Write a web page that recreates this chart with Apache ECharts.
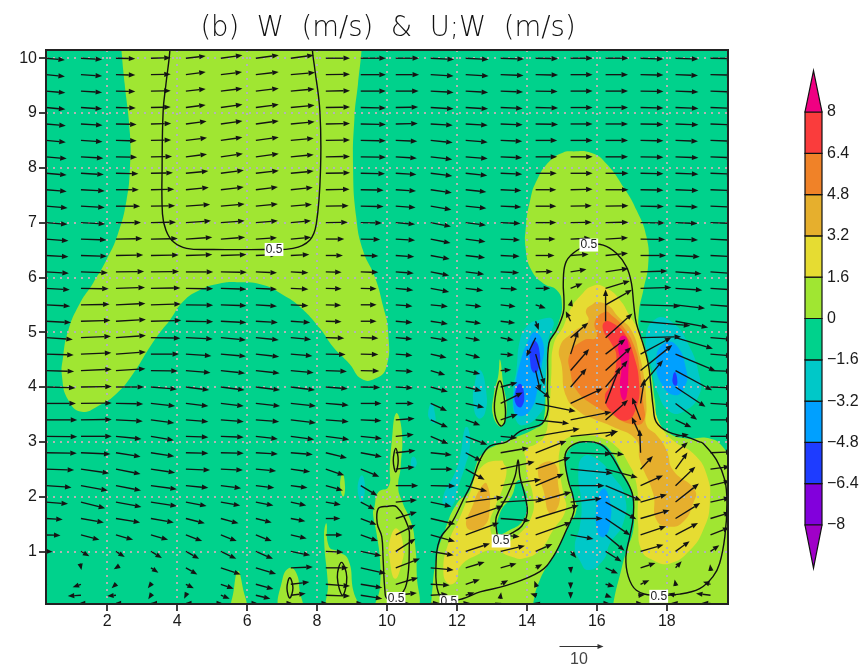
<!DOCTYPE html>
<html>
<head>
<meta charset="utf-8">
<style>html,body{margin:0;padding:0;background:#fff}#c{width:867px;height:666px}</style>
<script src="https://cdn.jsdelivr.net/npm/echarts@6/dist/echarts.min.js"></script>
</head>
<body>
<div id="c"></div>
<script>
const titleText = '(b)  W  (m/s)  &  U;W  (m/s)';
const xTicks = [2,4,6,8,10,12,14,16,18];
const yTicks = [1,2,3,4,5,6,7,8,9,10];
const xColumns = [0.25,1.25,2.25,3.25,4.25,5.25,6.25,7.25,8.25,9.25,10.25,11.25,12.25,13.25,14.25,15.25,16.25,17.25,18.25,19.25];
const yRows = [10,9.7,9.4,9.1,8.8,8.5,8.2,7.9,7.6,7.3,7,6.7,6.4,6.1,5.8,5.5,5.2,4.9,4.6,4.3,4,3.7,3.4,3.1,2.8,2.5,2.2,1.9,1.6,1.3,1,0.7,0.4,0.2,0.05];
const uRows = [
[4.3,4.8,4.4,4.5,4.5,4.9,5.2,5.2,5.5,5.7,5.3,5.3,5.2,5.3,5.1,5,5.2,5.2,5.2,5.2],
[4.3,4.8,4.4,4.5,4.5,4.8,5.2,5.5,5.5,5.7,5.3,5.2,5.2,5.2,5.1,5,5.1,5.2,5.1,5.2],
[4.4,4.8,4.4,4.5,4.5,4.9,5.2,5.4,5.5,5.7,5.2,5.2,5.1,5.1,5,5,5.1,5.2,5.2,5.2],
[4.4,4.8,4.5,4.5,4.5,4.9,5.2,5.4,5.5,5.7,5.1,5.2,5.1,5,5.1,5,5.1,5.2,5.2,5.2],
[4.5,4.9,4.7,4.6,4.7,4.9,5.2,5.4,5.5,5.7,5,5,5,5,5.1,5,5.1,5.2,5.2,5.2],
[4.5,4.9,4.7,4.6,4.8,4.9,5.2,5.2,5.5,5.7,4.9,5,5,4.9,4.9,5,5.1,5.2,5.1,5.2],
[4.7,5.1,4.8,4.8,4.8,5,5.2,5.2,5.5,5.7,4.8,4.9,5,4.9,4.9,5,5.1,5.2,5.2,5.2],
[4.7,5.2,5.1,5,5.1,5.2,5.2,5.2,5.5,5.5,4.7,4.9,4.9,4.9,4.8,5,5.2,5.2,5.2,5.2],
[4.7,5.4,5.2,5.3,5.2,5.2,5,5,5.4,5.2,4.6,4.8,4.7,4.7,4.7,5,5.2,5.2,5.2,5.2],
[4.9,5.4,5.5,5.5,5.5,5.4,5,4.8,5.2,5.2,4.5,4.7,4.7,4.7,4.7,4.8,5.2,5.3,5.1,5.3],
[4.9,5.5,5.7,5.7,5.7,5.4,5,4.6,5,4.8,4.4,4.6,4.6,4.5,4.7,4.8,5.2,5.5,5,5.5],
[5.1,5.8,6,6.1,6,5.5,4.8,4.6,4.2,4.4,4.4,4.5,4.5,4.4,4.5,4.6,5.1,5.6,5.1,5.6],
[5.1,5.9,6.2,6.3,6,5.8,4.8,4.2,3.9,4,4.2,4.3,4.4,4.3,4.3,4.1,5.1,5.8,5.5,5.7],
[5.2,6.1,6.4,6.4,6.2,5.9,4.8,4,3.6,4,4.1,4.2,4.2,4.2,3.9,3.6,5.2,6.1,5.9,5.8],
[5.4,6.3,6.6,6.7,6.2,5.8,4.8,4,3.6,3.6,4,4.2,4,3.8,3.3,2.7,5.5,7,6.1,6],
[5.5,6.5,6.7,6.8,6.2,5.8,4.8,4,3.5,3.6,3.8,3.9,3.6,3.4,2.3,0.3,6,9,6.7,6],
[5.7,6.7,6.8,6.9,6.2,5.8,5,4.4,3.6,3.6,3.8,3.9,3.5,3.3,0.7,-1.1,0,11.3,7.4,5.5],
[6.1,6.8,6.8,6.7,6.1,5.7,5.2,4.6,4.2,4,3.8,3.9,3.3,3,-2.1,4,6.1,9.2,8.5,5],
[6.3,6.9,6.8,6.4,5.8,5.7,5.3,4.9,4.5,4,3.8,3.6,3.3,3,2,1.7,4.5,7,9.1,5],
[6.4,7,6.7,6.1,5.6,5.5,5.4,5.2,4.8,4.2,3.9,3.3,3.3,2.4,1.1,4.2,5.8,7.2,8.3,5],
[6.7,7,6.4,5.9,5.3,5.4,5.5,5.5,5,4.4,3.9,3.9,3.6,3.8,3.3,3.6,5,5.1,6.8,5],
[6.8,7,6.2,5.5,5.1,5.2,5.5,5.7,5.2,4.7,4.1,3.7,4.2,5,9.1,7.3,3.2,0.9,4.9,5],
[7.1,7,6.1,5.3,5.1,5.2,5.3,5.7,5.2,4.7,4.3,3.9,3.3,3.9,7.6,9.3,5.1,-1.9,3.6,5],
[7.1,7,5.8,5.2,5.1,5.2,5,5.3,5.3,4.8,4.1,4,4.9,3.8,10,10.8,2.5,-2,3,5],
[7,6.7,5.6,5.3,5.1,5.2,5,5,4.8,4.8,4.5,4.8,3.6,6.4,7,9.3,4.2,-0.2,2.8,5],
[6.4,6.4,5.6,5.5,5.5,5,4.6,4.4,4.2,4.2,4.3,5,4.3,7.7,7.9,9.6,7.3,2.8,2.7,4.5],
[5.8,6.1,5.7,5.9,5.1,4.6,4.2,3.8,3.9,3.8,5.1,5.6,4.9,9.2,6.4,7.7,8.1,5.1,4.5,4.5],
[5,5.5,5.8,5.9,4.7,4.4,4,3.5,3.4,3.2,4.8,4.7,8.5,10,8.1,7.1,7,6,5.3,4.5],
[3.8,5.2,5.5,5.2,4.3,4,3.6,3.3,3.3,3.6,4.8,5.6,8.5,6.7,9.8,7.3,5.6,6.6,5.6,4.5],
[3.3,4.2,3.9,3.9,3.7,3.6,3.6,3.6,3.8,3.9,4.5,5.5,7.6,4.3,8.1,5.2,4.3,5.8,5.1,4.3],
[1.5,1.9,2,2.5,3,3.5,3.9,4.4,4,4.7,4.5,5.2,5.5,5.5,3.8,1.3,3.6,5.2,3.2,2],
[0.1,0.1,-0.5,1.7,2.6,4.5,4.6,5,5.1,5.7,5.5,5.2,4.3,3.6,1.5,0.1,2.8,3.4,1.4,-0.1],
[0.3,-1.9,-1,-0.7,1.8,2.9,4,4.2,5.5,4.9,5.1,4.3,3.2,1.7,-0.3,0,2,2,-0.2,-1.7],
[0.1,-3,-2,-0.6,-0.4,2,3.3,3.4,5.5,4.9,4.8,3.9,2,0.1,-1.2,0,1.4,1,-1.7,-3.3],
[0.1,-0.5,-0.3,-0.1,-0.2,0.5,0.5,0.5,0.5,0.5,3,2,1,0.3,-0.5,0,1,0.5,-1,-2]
];
const wRows = [
[-.4,-.3,-.1,.1,.5,.7,.7,.7,0,0,0,-.3,-.3,-.2,-.1,0,0,-.2,-.2,-.1],
[-.4,-.3,-.1,.1,.6,.6,.6,.5,.1,0,0,-.3,-.3,-.2,-.1,0,0,-.1,-.2,-.1],
[-.4,-.3,-.1,.1,.5,.6,.6,.5,.1,0,0,-.3,-.3,-.2,-.1,0,0,-.1,-.2,-.2],
[-.4,-.3,-.1,.1,.6,.7,.7,.5,.1,-.1,.1,-.3,-.3,-.2,-.1,0,0,-.1,-.2,-.2],
[-.4,-.3,-.1,.1,.6,.7,.7,.5,.1,-.1,.1,-.3,-.3,-.2,-.1,0,0,-.1,-.2,-.2],
[-.4,-.3,-.1,.1,.6,.7,.7,.5,.1,-.1,-.2,-.5,-.4,-.2,0,0,0,-.1,-.2,-.2],
[-.4,-.3,-.1,.1,.6,.7,.7,.5,.1,-.1,-.3,-.6,-.4,-.2,0,0,0,-.1,-.2,-.2],
[-.4,-.3,-.1,.1,.5,.7,.6,.5,.1,-.1,-.3,-.6,-.5,-.2,0,0,0,-.1,-.2,-.2],
[-.4,-.3,0,.1,.5,.6,.6,.5,.1,-.1,-.3,-.7,-.5,-.2,0,.1,0,-.1,-.2,-.2],
[-.4,-.3,0,.1,.4,.5,.5,.4,.1,-.1,-.3,-.8,-.5,-.2,0,.1,.1,-.1,-.2,-.2],
[-.4,-.3,0,.1,.4,.4,.4,.4,.1,-.1,-.4,-.9,-.6,-.2,0,.1,.1,-.1,-.2,-.2],
[-.4,-.2,.1,.1,.4,.4,.3,.4,0,-.1,-.3,-.9,-.6,-.2,0,.2,.3,-.1,-.2,-.3],
[-.3,-.2,.1,.1,.2,.2,.2,.2,0,-.1,-.3,-.8,-.5,-.2,0,.3,.5,0,-.3,-.3],
[-.3,-.2,.1,.1,0,-.1,-.2,-.2,-.1,-.1,-.3,-.8,-.5,-.2,.1,.6,.8,.2,-.4,-.4],
[-.3,-.1,.2,.1,-.1,-.2,-.2,-.2,-.1,-.1,-.4,-.8,-.5,-.2,0,1.1,1.7,.2,-.4,-.4],
[-.3,.1,.3,.2,-.1,-.2,-.3,-.2,-.1,0,-.3,-.4,-.4,-.4,-.8,1.2,3.4,-.3,-.8,-.5],
[-.3,.2,.4,.2,-.1,-.3,-.3,-.3,-.1,0,-.3,-.6,-.5,-.4,-2,2.3,7.2,-1,-1.4,-.4],
[-.4,.3,.5,-.1,-.3,-.5,-.5,-.4,-.1,-.1,-.3,-.6,-.6,-.6,-4.3,3.4,5.5,.2,-2.5,-.4],
[-.2,.3,.5,0,-.4,-.5,-.6,-.4,-.1,-.1,-.3,-.8,-.8,-.2,-7,5.3,3.4,3.8,-3.8,-.4],
[-.2,.3,.4,-.1,-.5,-.6,-.6,-.5,-.2,-.1,-.2,-1,-.8,.2,-4.7,4.9,5.3,5.8,-4.5,-.2],
[-.2,.1,0,-.5,-.7,-.7,-.7,-.7,-.4,-.1,-.2,-1.1,-.9,1,-2.5,4.2,6,6.1,-4.5,-.2],
[0,.1,-.1,-.6,-.6,-.6,-.6,-.6,-.4,0,0,-1.7,-.9,2.5,-1.8,3.4,8.3,5.6,-3.7,-.3],
[0,.1,-.3,-.7,-.4,-.4,-.4,-.7,-.4,-.2,.3,-1.7,-1.2,1.3,-.8,1.8,4.5,5.1,-1.7,0],
[-.1,0,-.6,-.9,-.2,-.2,-.6,-.7,-.7,-.5,.4,-1.7,-1.9,-.4,1.7,1.1,1,4.4,.4,0],
[-.1,-.3,-.9,-.8,-.1,-.1,-.3,-.4,-1.2,-.9,.5,-.5,-1.9,1.1,2.7,-.3,-.4,5.3,2.4,.2],
[-.2,-.9,-1.1,-.8,-.2,-.2,-.4,-.6,-1.4,-1.7,.5,0,-2.4,1.7,2.7,-.9,-1.9,3,3.8,.6],
[-.4,-1.1,-1.1,-.8,-.5,-.6,-.5,-.5,-1.1,-2.3,0,-.1,-1.3,1.4,2.7,0,-3.4,2.3,4.3,1.1],
[-.4,-1.4,-1.1,-.9,-.9,-.8,-.8,-.8,-.6,-1.7,.5,-1,1.1,.6,2.3,.8,-3.9,1.7,4.2,1],
[-.2,-.9,-.9,-.9,-1.1,-1.1,-.9,-.6,0,-1.4,1.5,-1.3,2.9,-.5,3,0,-3.8,1.9,3.5,1.4],
[-.1,-1.1,-1.1,-1.1,-1.4,-1.4,-1.4,-.8,0,-1.4,2.3,-1.5,2.8,-.4,2.9,-.9,-3.6,2,2.7,1.7],
[-.1,-1.1,-1.3,-1.5,-1.7,-1.7,-1.7,-.9,-.2,-1,2.9,-.9,1.8,1.3,1.7,-1.5,-2.3,1.5,2.3,1.4],
[0,-.5,-.3,-1.1,-1.5,-1.5,-1.4,.2,0,-1.3,2.1,-.5,1.3,1,.8,-1.3,-1.3,1.1,1.5,.8],
[0,-.7,-.9,-.9,-.9,-1,-1.1,.5,-.4,-.8,1.5,-.2,1.1,.9,.8,-1.1,-.5,.9,1.1,.6],
[0,-.2,-.2,-.9,-.8,-.8,-.8,.4,-.2,-.8,.5,.2,.6,.7,.4,-.8,-.5,.1,.4,.4],
[0,0,0,0,0,0,0,0,0,0,.1,.1,.1,.1,.1,0,0,0,.1,.1]
];

// Filled bands, outlines read in data coordinates (x, height)
const bandMinus16to0 = [[[-1,-1],[21,-1],[21,11],[-1,11]]];
const band0to16 = [
[[2.38,10.5],[2.41,10.13],[2.5,9.53],[2.65,8.62],[2.65,8],[2.55,7.4],[2.31,6.8],[1.98,6.32],[1.6,5.9],[1.22,5.53],[.89,5.04],[.74,4.55],[.71,4.18],[.89,3.76],[1.27,3.55],[1.79,3.67],[2.27,3.88],[2.74,4.24],[3.22,4.73],[3.55,5.03],[3.79,5.22],[4.17,5.56],[4.65,5.77],[5.22,5.89],[5.79,5.91],[6.46,5.86],[7.03,5.68],[7.5,5.47],[8.08,5.07],[8.46,4.73],[8.93,4.42],[9.27,4.15],[9.65,4.15],[9.98,4.36],[10.03,5.03],[9.89,5.47],[9.65,6.01],[9.31,6.5],[9.12,7.1],[9.03,8],[9.07,8.92],[9.17,9.53],[9.27,10.13],[9.3,10.5]],
[[15.28,8.3],[15.85,8.27],[16.28,8.07],[16.76,7.65],[17.14,7.22],[17.42,6.74],[17.47,6.25],[17.33,5.77],[17.2,5.35],[17.23,4.97],[17.51,4.37],[17.66,3.76],[17.75,3.39],[18.08,3.15],[18.56,3.06],[19.23,3.06],[19.61,2.9],[19.85,2.6],[20.3,2.4],[20.3,-.4],[16.4,-.4],[16.47,.04],[16.7,.67],[16.85,1.02],[17.04,1.39],[17.04,1.81],[16.99,2.12],[16.7,2.48],[16.37,2.85],[16.09,2.97],[15.61,3],[15.23,2.88],[15.11,2.67],[15.18,2.3],[15.32,2],[15.42,1.78],[15.18,1.45],[14.8,.96],[14.37,.48],[14.18,.05],[14.1,-.4],[11.2,-.4],[11.27,.11],[11.42,.9],[11.66,1.39],[11.99,1.87],[12.37,2.12],[12.56,2.6],[12.75,2.79],[13.13,2.94],[13.7,3.09],[14.23,3.24],[14.47,3.36],[14.53,4.25],[14.61,4.73],[14.9,5.16],[15,5.52],[14.85,5.77],[14.47,5.89],[14.13,6.13],[13.97,6.5],[13.97,6.92],[14.09,7.4],[14.28,7.77],[14.66,8.13],[15.04,8.28]],
[[5.74,.64],[5.87,.36],[5.96,-.1],[5.58,-.1],[5.62,.3]],
[[7.22,.7],[7.41,.6],[7.5,.3],[7.55,-.1],[6.95,-.1],[7.01,.49]],
[[8.27,1.51],[8.34,1.09],[8.6,1],[8.89,.85],[9.03,.3],[9.17,-.1],[8.34,-.1],[8.31,.42],[8.2,1.27]],
[[8.73,2.42],[8.8,2.18],[8.75,2],[8.66,2.2]],
[[10.26,3.52],[10.42,3.21],[10.39,2.54],[10.32,2.18],[10.42,1.93],[10.7,1.51],[10.8,1.14],[10.85,.6],[10.8,-.1],[9.72,-.1],[9.8,.35],[9.8,.84],[9.7,1.33],[9.6,1.69],[9.64,1.81],[9.75,2.08],[10.04,2.18],[10.08,2.54],[10.13,2.97]],
[[13.23,4.5],[13.32,4.07],[13.42,3.58],[13.28,3.28],[13.04,3.46],[13.06,3.89],[13.18,4.2]]
];
const band16to32 = [
[[15.9,5.85],[16.28,5.8],[16.66,5.59],[16.94,5.3],[17.13,5.1],[17.37,4.73],[17.51,4.25],[17.61,3.76],[17.85,3.27],[18.23,3],[18.75,2.79],[19.13,2.42],[19.23,1.87],[19.04,1.39],[18.66,1.02],[18.09,.78],[17.61,.84],[17.28,1.02],[17.18,1.51],[17.13,2.24],[16.85,2.67],[16.56,2.91],[16.18,3.06],[15.61,3.12],[15.13,3.06],[14.94,2.85],[14.94,2.48],[15.04,2.06],[15.11,1.76],[14.75,1.39],[14.37,1.02],[13.89,.87],[13.56,.9],[13.04,1.02],[12.56,.93],[12.09,.72],[11.99,.47],[11.75,.41],[11.61,.66],[11.75,1.14],[12.09,1.63],[12.37,2.06],[12.7,2.54],[13.28,2.66],[13.37,2.57],[13.7,2.4],[13.97,2.85],[14.28,2.97],[14.5,3.1],[14.61,3.39],[14.66,3.7],[14.7,4.25],[14.77,4.79],[15.04,5.1],[15.23,5.4],[15.51,5.65]],
[[10.28,1.42],[10.47,1.08],[10.42,.78],[10.23,.5],[10.08,.84],[10.08,1.2]]
];
const holeBand0to16 = [[[13.66,2.78],[13.9,2.82],[14.01,2.4],[14.18,1.99],[14.13,1.63],[13.8,1.33],[13.32,1.15],[13.09,1.21],[12.95,1.51],[13.09,1.81],[13.32,2.18],[13.42,2.55],[13.32,2.66]]];
const holeBandMinus16to0 = [[[13.75,2.3],[13.56,2],[13.23,1.7],[13.18,1.33],[13.51,1.39],[13.89,1.57],[14.01,1.87],[13.94,2.12]]];
const band32to48 = [
[[15.9,5.52],[15.69,5.4],[15.75,5.2],[15.32,5],[14.94,4.73],[15,4.37],[15.13,3.82],[15.5,3.55],[15.9,3.42],[16.47,3.27],[17.13,3.03],[17.23,2.67],[17.61,2.06],[17.71,1.57],[18.09,1.45],[18.47,1.54],[18.75,1.87],[18.8,2.12],[18.18,2.48],[17.99,2.85],[17.71,3.12],[17.42,3.3],[17.42,3.63],[17.36,4.12],[17.23,4.55],[16.99,5.03],[16.61,5.28],[16.32,5.49],[15.99,5.55]],
[[12.85,2.24],[12.94,1.81],[12.75,1.45],[12.28,1.44],[12.47,1.87],[12.7,2.18]],
[[14.42,2.6],[14.8,2.6],[14.89,2.24],[14.92,1.87],[14.66,1.69],[14.47,2.12],[14.32,2.42]]
];
const band48to64 = [[[16.23,5.37],[15.94,5.19],[15.99,4.91],[15.61,4.85],[15.23,4.61],[15.25,4.25],[15.42,3.94],[15.9,3.67],[16.47,3.48],[16.94,3.33],[17.32,3.36],[17.32,3.76],[17.23,4.3],[17.08,4.73],[16.75,5.1],[16.42,5.31]]];
const band64to80 = [[[16.23,5.19],[16.18,5.04],[16.42,4.79],[16.56,4.55],[16.42,4.06],[16.23,3.82],[16.42,3.54],[16.85,3.39],[17.13,3.63],[17.21,4.06],[17.04,4.61],[16.8,4.97],[16.47,5.16]]];
const bandAbove80 = [[[16.75,4.94],[16.61,4.79],[16.7,4.37],[16.66,4],[16.75,3.76],[16.85,3.82],[16.9,4.3],[16.9,4.79]]];
const bandMinus32toMinus16 = [
[[17.7,5.25],[18.13,5.19],[18.56,4.85],[18.94,4.18],[18.9,3.82],[18.47,3.55],[18.09,3.55],[17.75,3.88],[17.56,4.37],[17.4,4.91]],
[[14.32,5.22],[14.75,5.22],[14.61,4.85],[14.56,4.25],[14.51,3.76],[14.37,3.51],[13.9,3.3],[13.66,3.45],[13.61,3.94],[13.7,4.3],[13.8,4.85],[13.99,5.1]],
[[12.66,4.31],[12.83,3.95],[12.8,3.52],[12.61,3.43],[12.47,3.7],[12.51,4.07]],
[[11.28,3.7],[11.37,3.52],[11.37,3.34],[11.23,3.4],[11.18,3.55]],
[[12.32,3.25],[12.37,2.92],[12.23,2.55],[12.04,2.19],[11.85,1.82],[11.61,1.88],[11.61,2],[11.68,2.13],[11.94,2.43],[12.09,2.73],[12.23,3.25]],
[[10.75,2.73],[10.85,2.61],[10.75,2.52],[10.68,2.61]],
[[9.28,2.39],[9.37,2.18],[9.28,1.9],[9.16,2.15]],
[[15.61,2.73],[15.99,2.69],[16.47,2.36],[16.8,2],[16.75,1.51],[16.37,1.14],[16.18,.84],[15.75,.66],[15.51,.84],[15.37,1.08],[15.51,1.45],[15.56,1.87],[15.47,2.42]]
];
const bandMinus48toMinus32 = [
[[18.23,4.79],[18.56,4.3],[18.51,4],[18.23,3.85],[17.85,4.06],[17.7,4.43],[17.85,4.76]],
[[14.23,5],[14.47,4.79],[14.42,4.37],[14.32,4],[14.09,3.57],[13.75,3.48],[13.61,3.7],[13.66,4],[13.8,4.43],[14.04,4.85]],
[[16.18,2.15],[16.37,1.93],[16.39,1.57],[16.23,1.27],[16.04,1.33],[15.99,1.81]]
];
const bandMinus64toMinus48 = [
[[18.23,4.27],[18.29,4.18],[18.28,4.03],[18.18,4.06],[18.18,4.21]],
[[14.23,4.85],[14.37,4.61],[14.32,4.31],[14.18,4.27],[14.09,4.49],[14.1,4.73]],
[[13.8,4.06],[13.92,3.88],[13.85,3.64],[13.7,3.67],[13.66,3.88]]
];
const bandColors = ['#00d28c','#a0e632','#e6dc32','#e6af2d','#f08228','#fa3c3c','#f00082','#00c8c8','#00a0ff','#1e3cff','#8200dc','#a000c8'];
const fillLayers = [
 [bandMinus16to0,bandColors[0]],[band0to16,bandColors[1]],[band16to32,bandColors[2]],
 [holeBand0to16,bandColors[1]],[holeBandMinus16to0,bandColors[0]],
 [band32to48,bandColors[3]],[band48to64,bandColors[4]],[band64to80,bandColors[5]],[bandAbove80,bandColors[6]],
 [bandMinus32toMinus16,bandColors[7]],[bandMinus48toMinus32,bandColors[8]],[bandMinus64toMinus48,bandColors[9]]
];

// 0.5 m/s contour of W
const contourOpen = [
[[3.8,10.5],[3.79,10.13],[3.68,9.53],[3.6,9.04],[3.57,8.01],[3.58,7.16],[3.68,6.86],[3.89,6.65],[4.27,6.53],[5.03,6.51],[6.46,6.51],[7.31,6.53],[7.79,6.68],[7.98,6.98],[8.1,7.99],[8.08,9.04],[7.93,9.83],[7.87,10.13],[7.86,10.5]]
];
const contourClosed = [
[[15.75,6.59],[16.18,6.59],[16.56,6.44],[16.85,6.19],[16.99,5.89],[17.06,5.47],[17.13,5.16],[17.32,4.79],[17.47,4.42],[17.54,4.06],[17.61,3.64],[17.7,3.36],[18.04,3.18],[18.56,3.09],[18.94,3],[19.04,2.97],[19.42,2.67],[19.66,2.3],[19.72,1.87],[19.66,1.27],[19.51,.78],[19.32,.54],[18.94,.32],[18.37,.22],[17.61,.2],[17.13,.29],[16.9,.54],[16.83,.9],[16.94,1.27],[17.04,1.63],[17.01,2.06],[16.66,2.48],[16.37,2.79],[16.09,2.96],[15.61,3],[15.23,2.91],[15.09,2.73],[15.18,2.3],[15.32,2],[15.35,1.75],[15.13,1.39],[14.75,.9],[14.37,.63],[13.42,.38],[12.66,.26],[12.18,.14],[11.75,.1],[11.47,.24],[11.4,.73],[11.51,1.22],[11.85,1.52],[12.18,1.94],[12.42,2.25],[12.66,2.67],[12.94,2.92],[13.42,3],[13.8,3.19],[14.51,3.39],[14.59,4.07],[14.63,4.8],[14.85,5.04],[15.04,5.35],[15.06,5.59],[15.04,5.89],[15.1,6.25],[15.32,6.44]],
[[13.23,1.19],[13.13,1.4],[13.13,1.64],[13.42,2],[13.66,2.37],[13.75,2.67],[13.8,2.37],[13.95,2],[14.01,1.7],[13.85,1.46],[13.51,1.31]],
[[10.28,.14],[10.56,.41],[10.64,1.2],[10.61,1.44],[10.28,1.81],[10,1.82],[9.75,1.78],[9.72,1.51],[9.85,1.27],[9.89,.84],[9.94,.29],[10,.14]],
[[10.25,2.88],[10.32,2.66],[10.25,2.45],[10.18,2.66]],
[[8.7,.8],[8.85,.53],[8.73,.2],[8.58,.53]],
[[7.22,.52],[7.31,.33],[7.22,.15],[7.14,.33]],
[[13.23,4.11],[13.37,3.7],[13.37,3.37],[13.25,3.29],[13.09,3.49],[13.09,3.8]]
];
const contourLabelText = '0.5';
const contourLabelSpots = [[6.77,6.51],[15.77,6.59],[13.26,1.19],[10.26,.14],[11.77,.08],[17.77,.18]];

// Colour bar
const cbLevels = [-8,-6.4,-4.8,-3.2,-1.6,0,1.6,3.2,4.8,6.4,8];
const cbColors = ['#8200dc','#1e3cff','#00a0ff','#00c8c8','#00d28c','#a0e632','#e6dc32','#e6af2d','#f08228','#fa3c3c'];
const cbEndColors = {low:'#a000c8',high:'#f00082'};
const cbTips = [-9.67,9.6];
const refVectorValue = 10;
const pxPerUnit = 4.4;

const fillItems = [];
fillLayers.forEach(function(l){l[0].forEach(function(p){fillItems.push({p:p,c:l[1]});});});
const arrowData = [];
yRows.forEach(function(y,r){xColumns.forEach(function(x,c){arrowData.push([x,y,uRows[r][c],wRows[r][c]]);});});

const chart = echarts.init(document.getElementById('c'));
function toPts(api,pts){return pts.map(function(q){return api.coord(q);});}
const mainFont = 'Liberation Sans';
function xAxisMain(){return {gridIndex:0,type:'value',min:.25,max:19.75,z:2,
  axisLine:{show:false},
  axisTick:{customValues:xTicks,length:7,lineStyle:{color:'#111',width:1.6}},
  axisLabel:{customValues:xTicks,color:'#1a1a1a',fontSize:16,fontFamily:mainFont,margin:10},
  splitLine:{show:true,customValues:xTicks,lineStyle:{color:'#b4b4b4',width:2,type:[2,5]}}};}
function yAxisMain(){return {gridIndex:0,type:'value',min:.04,max:10.15,z:2,
  axisLine:{show:false},
  axisTick:{customValues:yTicks,length:7,lineStyle:{color:'#111',width:1.6}},
  axisLabel:{customValues:yTicks,color:'#1a1a1a',fontSize:16,fontFamily:mainFont,margin:9},
  splitLine:{show:true,customValues:yTicks,lineStyle:{color:'#b4b4b4',width:2,type:[2,5]}}};}

chart.setOption({
 animation:false,
 backgroundColor:'#fff',
 title:{text:titleText,left:383,top:10,textAlign:'center',textStyle:{fontFamily:'DejaVu Sans',fontWeight:200,fontSize:27.5,color:'#111'}},
 grid:[
  {left:46,top:50,width:682,height:554,show:true,z:6,backgroundColor:'transparent',borderColor:'#222',borderWidth:2},
  {left:805,top:112,width:17,height:413,show:false}
 ],
 xAxis:[xAxisMain(),{gridIndex:1,type:'value',min:0,max:1,show:false}],
 yAxis:[yAxisMain(),{gridIndex:1,type:'value',position:'right',min:-8,max:8,interval:1.6,
   axisLine:{show:false},axisTick:{show:false},splitLine:{show:false},
   axisLabel:{color:'#1a1a1a',fontSize:16,fontFamily:mainFont,margin:5,
     formatter:function(v){var s=String(+(+v).toFixed(1));return s.replace('-','\u2212');}}}],
 series:[
  {type:'custom',xAxisIndex:0,yAxisIndex:0,z:1,clip:true,silent:true,
   data:fillItems.map(function(_,i){return [i];}),
   renderItem:function(params,api){var it=fillItems[params.dataIndex];
     return {type:'polygon',shape:{points:toPts(api,it.p),smooth:.5},style:{fill:it.c}};}},
  {type:'custom',xAxisIndex:0,yAxisIndex:0,z:3,clip:true,silent:true,
   data:arrowData,encode:{x:0,y:1},
   renderItem:function(params,api){
     var d=arrowData[params.dataIndex],t=api.coord([d[0],d[1]]);
     var dx=d[2]*pxPerUnit,dy=-d[3]*pxPerUnit,L=Math.sqrt(dx*dx+dy*dy)||1,ux=dx/L,uy=dy/L;
     var tip=[t[0]+dx,t[1]+dy],h=6.5,w=2.6,b=[tip[0]-ux*h,tip[1]-uy*h];
     return {type:'group',children:[
       {type:'line',shape:{x1:t[0],y1:t[1],x2:b[0],y2:b[1]},style:{stroke:'#141414',lineWidth:1.35}},
       {type:'polygon',shape:{points:[tip,[b[0]-uy*w,b[1]+ux*w],[b[0]+uy*w,b[1]-ux*w]]},style:{fill:'#141414'}}
     ]};}},
  {type:'custom',xAxisIndex:0,yAxisIndex:0,z:4,clip:true,silent:true,
   data:contourOpen.concat(contourClosed).map(function(_,i){return [i];}),
   renderItem:function(params,api){var i=params.dataIndex,n=contourOpen.length;
     if(i<n){return {type:'polyline',shape:{points:toPts(api,contourOpen[i]),smooth:.4},style:{stroke:'#111',lineWidth:1.4,fill:null}};}
     return {type:'polygon',shape:{points:toPts(api,contourClosed[i-n]),smooth:.4},style:{stroke:'#111',lineWidth:1.4,fill:'none'}};}},
  {type:'custom',xAxisIndex:0,yAxisIndex:0,z:5,clip:true,silent:true,
   data:contourLabelSpots,encode:{x:0,y:1},
   renderItem:function(params,api){var p=api.coord(contourLabelSpots[params.dataIndex]);
     return {type:'text',x:p[0],y:p[1],style:{text:contourLabelText,align:'center',verticalAlign:'middle',fontSize:12,fontFamily:mainFont,fill:'#222',backgroundColor:'#fff',padding:[1,1,0,1]}};}},
  {type:'custom',xAxisIndex:1,yAxisIndex:1,z:3,silent:true,clip:false,
   data:cbColors.map(function(_,i){return [i];}).concat([[-1],[-2]]),
   renderItem:function(params,api){
     var i=api.value(0),s={stroke:'#111',lineWidth:1.2};
     if(i===-1||i===-2){var hi=i===-2;var base=hi?8:-8,tip=hi?cbTips[1]:cbTips[0];
       return {type:'polygon',shape:{points:[api.coord([0,base]),api.coord([1,base]),api.coord([.5,tip])]},style:Object.assign({fill:hi?cbEndColors.high:cbEndColors.low},s)};}
     var a=api.coord([0,cbLevels[i]]),b=api.coord([1,cbLevels[i+1]]);
     return {type:'rect',shape:{x:a[0],y:b[1],width:b[0]-a[0],height:a[1]-b[1]},style:Object.assign({fill:cbColors[i]},s)};}}
 ],
 graphic:[
  {type:'group',left:557,top:644,children:[
    {type:'line',shape:{x1:0,y1:3,x2:refVectorValue*pxPerUnit-5,y2:3},style:{stroke:'#333',lineWidth:1}},
    {type:'polygon',shape:{points:[[refVectorValue*pxPerUnit,3],[refVectorValue*pxPerUnit-6,0.5],[refVectorValue*pxPerUnit-6,5.5]]},style:{fill:'#333'}}
  ]},
  {type:'text',left:570,top:652,style:{text:String(refVectorValue),fontSize:16,fontFamily:mainFont,fill:'#444'}}
 ]
});
</script>
</body>
</html>
